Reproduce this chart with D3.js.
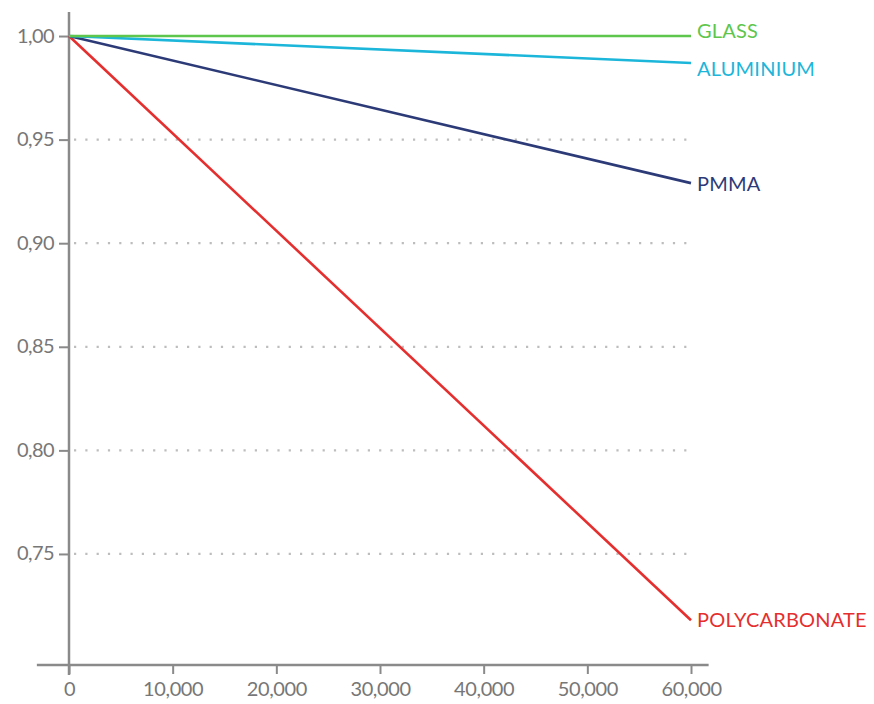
<!DOCTYPE html>
<html>
<head>
<meta charset="utf-8">
<script src="https://cdn.jsdelivr.net/npm/d3@7"></script>
<style>
  body { margin: 0; background: #fff; }
  text { font-family: Lato, "Open Sans", sans-serif; }
</style>
</head>
<body>
<div id="chart"></div>
<script>
// data: relative transmission vs hours
var hours = [0, 60000];
var glass = [1.0, 1.0];
var aluminium = [1.0, 0.987];
var pmma = [1.0, 0.929];
var polycarbonate = [1.0, 0.718];

var seriesNames = ["GLASS", "ALUMINIUM", "PMMA", "POLYCARBONATE"];
var seriesColors = ["#5ec64c", "#1cb6da", "#2c3b78", "#e52f2f"];

var xTicks = [0, 10000, 20000, 30000, 40000, 50000, 60000];
var xTickLabels = ["0", "10,000", "20,000", "30,000", "40,000", "50,000", "60,000"];
var yTicks = [1.0, 0.95, 0.9, 0.85, 0.8, 0.75];
var yTickLabels = ["1,00", "0,95", "0,90", "0,85", "0,80", "0,75"];

var width = 874, height = 704;
var axisColor = "#8a8a8a";

var svg = d3.select("#chart").append("svg")
  .attr("width", width)
  .attr("height", height);

var x = d3.scaleLinear().domain([0, 60000]).range([69, 691]);
var y = d3.scaleLinear().domain([0.6964, 1.0116]).range([665, 12]);

// dotted grid
svg.append("g")
  .selectAll("line")
  .data(yTicks.slice(1))
  .enter()
  .append("line")
  .attr("x1", x(0) + 5)
  .attr("x2", x(60000) + 1)
  .attr("y1", d => y(d))
  .attr("y2", d => y(d))
  .attr("stroke", "#bdbdbd")
  .attr("stroke-width", 2.2)
  .attr("stroke-dasharray", "2.2,9.1");

// y axis
var yAxis = svg.append("g")
  .attr("transform", "translate(" + x(0) + ",0)")
  .call(d3.axisLeft(y).tickValues(yTicks).tickSize(10).tickPadding(5)
    .tickFormat((d, i) => yTickLabels[i]));
yAxis.select(".domain").remove();
yAxis.selectAll(".tick line").attr("stroke", axisColor).attr("stroke-width", 2);
yAxis.selectAll(".tick text")
  .attr("fill", "#777")
  .style("font-size", "20px")
  .style("letter-spacing", "-0.6px")
  .attr("dy", "0.3em");

// x axis
var xAxis = svg.append("g")
  .attr("transform", "translate(0," + y.range()[0] + ")")
  .call(d3.axisBottom(x).tickValues(xTicks).tickSize(9).tickPadding(8)
    .tickFormat((d, i) => xTickLabels[i]));
xAxis.select(".domain").remove();
xAxis.selectAll(".tick line").attr("stroke", axisColor).attr("stroke-width", 2);
xAxis.selectAll(".tick text")
  .attr("fill", "#777")
  .style("font-size", "20px")
  .style("letter-spacing", "-0.4px");

// axis lines
svg.append("line")
  .attr("x1", x(0)).attr("x2", x(0))
  .attr("y1", 12).attr("y2", y.range()[0] + 10)
  .attr("stroke", axisColor).attr("stroke-width", 2.5);
svg.append("line")
  .attr("x1", x(-3100)).attr("x2", x(61700))
  .attr("y1", y.range()[0]).attr("y2", y.range()[0])
  .attr("stroke", axisColor).attr("stroke-width", 2.5);

// series
var allSeries = [glass, aluminium, pmma, polycarbonate].map((vals, i) => ({
  name: seriesNames[i],
  color: seriesColors[i],
  values: vals.map((v, j) => ({ h: hours[j], v: v }))
}));

var line = d3.line().x(d => x(d.h)).y(d => y(d.v));

// drawn bottom-up so glass sits on top
var order = allSeries.slice().reverse();
svg.append("g")
  .selectAll("path")
  .data(order)
  .enter()
  .append("path")
  .attr("d", d => line(d.values))
  .attr("fill", "none")
  .attr("stroke", d => d.color)
  .attr("stroke-width", 2.6);

// end labels, nudged a bit where glass/aluminium crowd each other
var labelNudge = { "GLASS": -5, "ALUMINIUM": 6, "PMMA": 1, "POLYCARBONATE": 0 };
svg.append("g")
  .selectAll("text")
  .data(allSeries)
  .enter()
  .append("text")
  .attr("x", x(60000) + 6)
  .attr("y", d => y(d.values[d.values.length - 1].v) + labelNudge[d.name])
  .attr("dy", "0.36em")
  .attr("fill", d => d.color)
  .style("font-size", "20px")
  .style("letter-spacing", "0.2px")
  .text(d => d.name);
</script>
</body>
</html>
